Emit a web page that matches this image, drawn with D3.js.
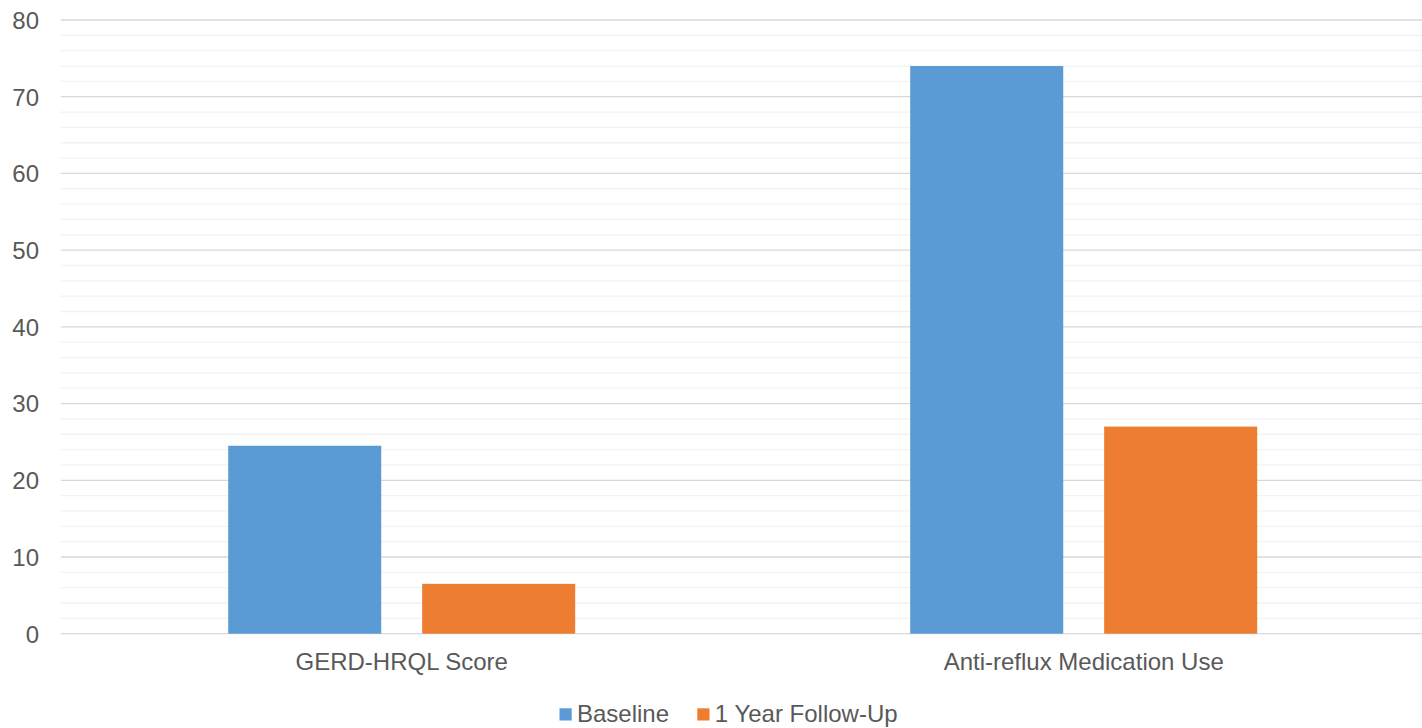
<!DOCTYPE html>
<html>
<head>
<meta charset="utf-8">
<script src="https://cdn.jsdelivr.net/npm/d3@7"></script>
<style>
  html, body { margin: 0; padding: 0; background: #ffffff; }
  svg { display: block; }
  text { font-family: "Liberation Sans", Arial, sans-serif; fill: #595959; }
</style>
</head>
<body>
<svg id="chart" width="1422" height="728"></svg>
<script>
// Categories, series and values
const categories = ["GERD-HRQL Score", "Anti-reflux Medication Use"];
const seriesNames = ["Baseline", "1 Year Follow-Up"];
const baselineValues = [24.5, 74];
const followUpValues = [6.5, 27];
const seriesColors = ["#5B9BD5", "#ED7D31"];
const yMajorTicks = [0, 10, 20, 30, 40, 50, 60, 70, 80];
const yMinorTicks = d3.range(0, 81, 2).filter(v => v % 10 !== 0);

const FONT = "24px";
const plot = { left: 60.7, right: 1424.7, top: 20, bottom: 633.7 };

const svg = d3.select("#chart");

const y = d3.scaleLinear().domain([0, 80]).range([plot.bottom, plot.top]);
const x0 = d3.scaleBand().domain(categories).range([plot.left, plot.right]).padding(0);
const groupWidth = 347;
const x1 = d3.scaleBand().domain(seriesNames)
  .range([x0.bandwidth() / 2 - groupWidth / 2, x0.bandwidth() / 2 + groupWidth / 2])
  .paddingInner(0.211).paddingOuter(0);

// Minor gridlines
svg.append("g").selectAll("line").data(yMinorTicks).join("line")
  .attr("x1", plot.left).attr("x2", plot.right)
  .attr("y1", d => y(d)).attr("y2", d => y(d))
  .attr("stroke", "#f2f2f2").attr("stroke-width", 1.3);

// Major gridlines
svg.append("g").selectAll("line").data(yMajorTicks).join("line")
  .attr("x1", plot.left).attr("x2", plot.right)
  .attr("y1", d => y(d)).attr("y2", d => y(d))
  .attr("stroke", "#d9d9d9").attr("stroke-width", 1.3);

// Y axis labels
const yAxis = d3.axisLeft(y).tickValues(yMajorTicks).tickSize(0).tickPadding(0);
const yg = svg.append("g").attr("transform", `translate(39,0)`).call(yAxis);
yg.select(".domain").remove();
yg.selectAll("text")
  .attr("font-size", FONT)
  .attr("fill", "#595959")
  .attr("font-family", "'Liberation Sans', Arial, sans-serif")
  .attr("dy", "0.35em");

// Bars
const rows = categories.map((c, i) => ({
  category: c,
  values: [baselineValues[i], followUpValues[i]]
}));

const groups = svg.append("g").selectAll("g").data(rows).join("g")
  .attr("transform", d => `translate(${x0(d.category)},0)`);

groups.selectAll("rect")
  .data(d => d.values.map((v, j) => ({ series: seriesNames[j], value: v, color: seriesColors[j] })))
  .join("rect")
  .attr("x", d => x1(d.series))
  .attr("width", x1.bandwidth())
  .attr("y", d => y(d.value))
  .attr("height", d => y(0) - y(d.value))
  .attr("fill", d => d.color);

// Category axis labels
const xAxis = d3.axisBottom(x0).tickSize(0).tickPadding(0);
const xg = svg.append("g").attr("transform", `translate(0,${plot.bottom})`).call(xAxis);
xg.select(".domain").remove();
xg.selectAll("text")
  .attr("font-size", FONT)
  .attr("fill", "#595959")
  .attr("font-family", "'Liberation Sans', Arial, sans-serif")
  .attr("dy", null)
  .attr("y", 36.8);

// Legend
const legendItems = [
  { name: seriesNames[0], color: seriesColors[0], x: 559.5 },
  { name: seriesNames[1], color: seriesColors[1], x: 697.3 }
];
const legend = svg.append("g");
const li = legend.selectAll("g").data(legendItems).join("g")
  .attr("transform", d => `translate(${d.x},0)`);
li.append("rect")
  .attr("x", 0).attr("y", 708.3).attr("width", 12.2).attr("height", 12.2)
  .attr("fill", d => d.color);
li.append("text")
  .attr("x", 17.5).attr("y", 721.7)
  .attr("font-size", FONT)
  .text(d => d.name);
</script>
</body>
</html>
